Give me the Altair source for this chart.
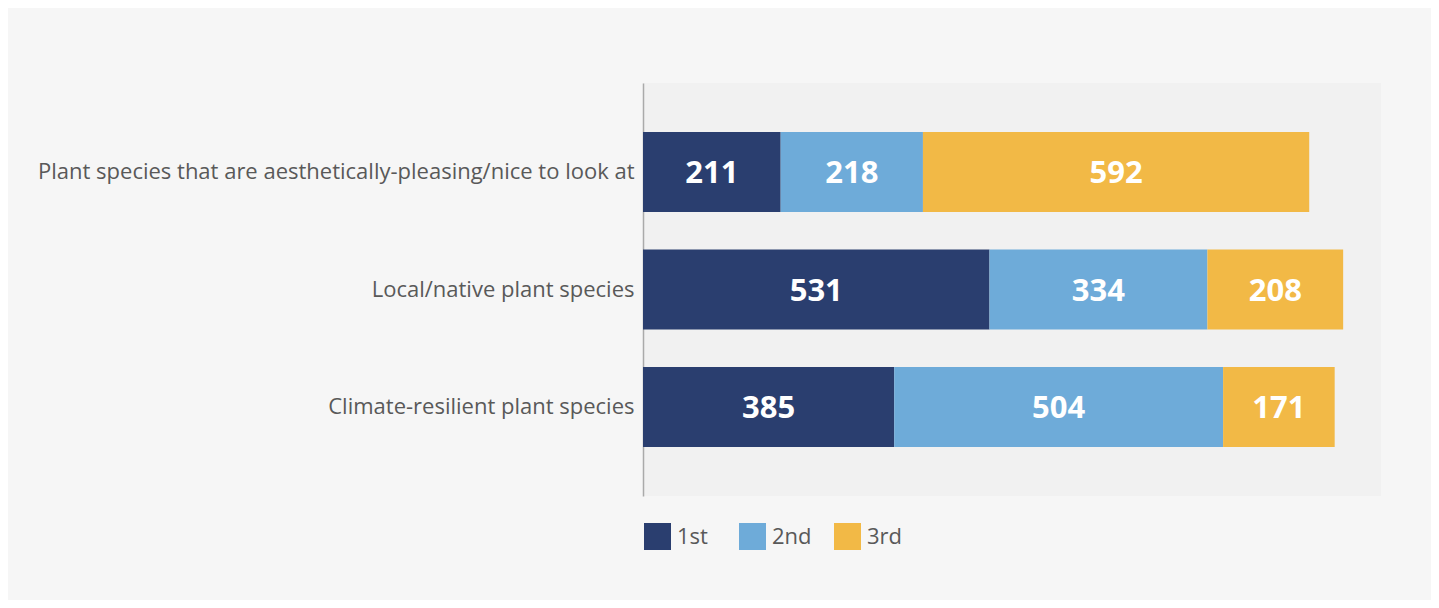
import altair as alt
import pandas as pd

categories = [
    "Plant species that are aesthetically-pleasing/nice to look at",
    "Local/native plant species",
    "Climate-resilient plant species",
]
ranks = ["1st", "2nd", "3rd"]
first = [211, 531, 385]
second = [218, 334, 504]
third = [592, 208, 171]
colors = ["#2a3e6f", "#6eabd9", "#f2b946"]

rows = []
for i, c in enumerate(categories):
    for j, (r, v) in enumerate(zip(ranks, [first[i], second[i], third[i]])):
        rows.append({"category": c, "rank": r, "order": j, "value": v})
df = pd.DataFrame(rows)

FONT = "Open Sans"

base = alt.Chart(df).transform_stack(
    stack="value", groupby=["category"], as_=["x0", "x1"],
    sort=[alt.SortField("order", order="ascending")]
).transform_calculate(mid="(datum.x0 + datum.x1) / 2")

yenc = alt.Y(
    "category:N", sort=categories, title=None,
    scale=alt.Scale(paddingInner=0.32, paddingOuter=0.417),
    axis=alt.Axis(labelFont=FONT, labelFontSize=22, labelColor="#595959",
                  labelPadding=9, ticks=False, domainColor="#aaaaaa",
                  domainWidth=1.5, labelLimit=700, grid=False),
)

bars = base.mark_bar().encode(
    x=alt.X("x0:Q", scale=alt.Scale(domain=[0, 1131], nice=False), axis=None, title=None),
    x2="x1:Q",
    y=yenc,
    color=alt.Color(
        "rank:N", scale=alt.Scale(domain=ranks, range=colors),
        legend=alt.Legend(
            title=None, orient="none", legendX=1, legendY=440, direction="horizontal",
            symbolType="square", symbolSize=729, symbolStrokeWidth=0,
            labelFont=FONT, labelFontSize=22, labelColor="#595959",
            labelOffset=6, columnPadding=22, gridAlign="all",
            symbolOpacity=1,
        ),
    ),
)

labels = base.mark_text(font=FONT, fontSize=31, fontWeight="bold", color="white",
                        baseline="middle", align="center", dy=2).encode(
    x=alt.X("mid:Q", scale=alt.Scale(domain=[0, 1131], nice=False), axis=None),
    y=alt.Y("category:N", sort=categories),
    text="value:Q",
)

chart = (bars + labels).properties(
    width=738, height=413,
    background="#f6f6f6",
    padding={"left": 635, "top": 75, "right": 50, "bottom": 104},
    autosize=alt.AutoSizeParams(type="none"),
).configure_view(fill="#f1f1f1", stroke=None)

chart.save("out.html", embed_options={"renderer": "svg", "actions": False})
